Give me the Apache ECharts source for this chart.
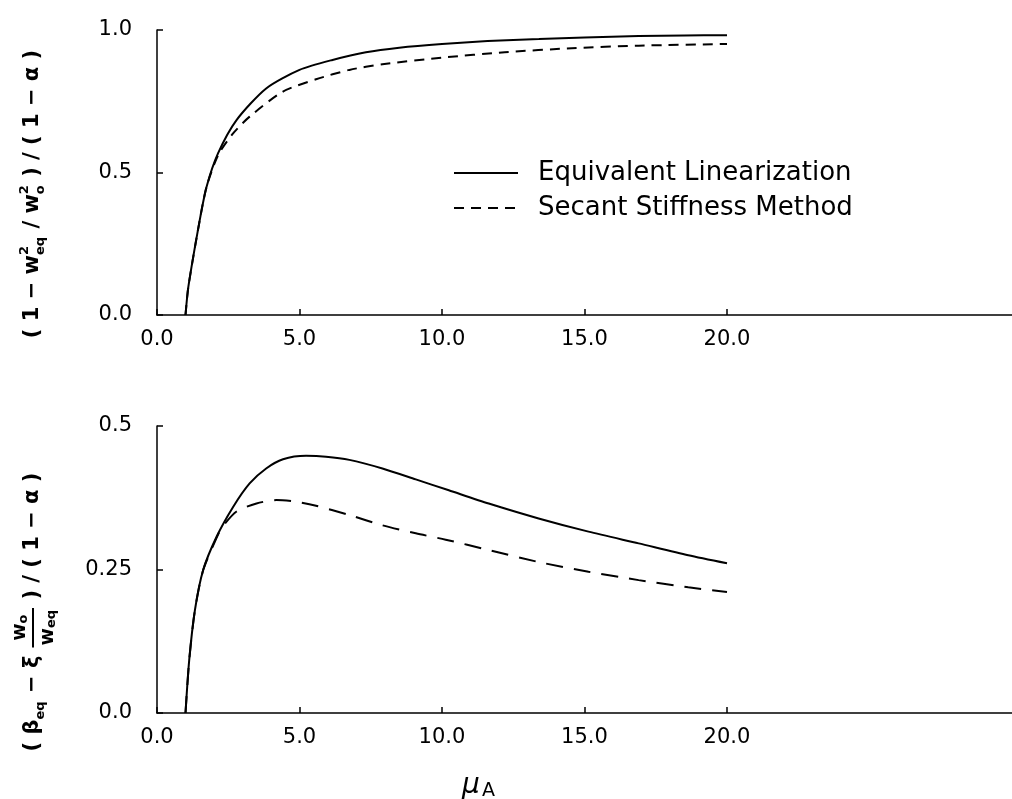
<!DOCTYPE html>
<html><head><meta charset="utf-8">
<script src="https://cdn.jsdelivr.net/npm/echarts@6/dist/echarts.min.js"></script>
<style>html,body{margin:0;padding:0;background:#fff}#c{width:1012px;height:799px}</style>
</head><body><div id="c"></div>
<script>
// ---- data ----
const xTickValues = [0, 5, 10, 15, 20];
const topYTicks = ['0.0', '0.5', '1.0'];
const botYTicks = ['0.0', '0.25', '0.5'];
const seriesNames = ['Equivalent Linearization', 'Secant Stiffness Method'];

const topElMu  = [1.0, 1.1, 1.5, 1.74, 2.14, 2.79, 3.83, 5.0, 6.16, 7.33, 8.5, 10.0, 11.6, 13.4, 15.0, 16.9, 18.5, 20.0];
const topElVal = [0.0, 0.099, 0.333, 0.45, 0.567, 0.684, 0.795, 0.86, 0.895, 0.922, 0.938, 0.951, 0.961, 0.968, 0.974, 0.979, 0.981, 0.982];
const topSsMu  = [1.0, 1.1, 1.5, 1.74, 2.14, 2.67, 3.25, 4.42, 5.58, 6.75, 7.91, 10.0, 12.2, 14.55, 16.9, 20.0];
const topSsVal = [0.0, 0.099, 0.333, 0.45, 0.56, 0.637, 0.696, 0.784, 0.827, 0.86, 0.88, 0.903, 0.922, 0.936, 0.945, 0.951];

const botElMu  = [1.0, 1.13, 1.33, 1.62, 2.09, 2.67, 3.25, 3.83, 4.42, 5.23, 5.93, 6.75, 7.91, 9.08, 10.24, 11.64, 13.39, 15.14, 16.9, 18.64, 20.0];
const botElVal = [0.0, 0.092, 0.179, 0.249, 0.307, 0.359, 0.400, 0.426, 0.442, 0.448, 0.4465, 0.441, 0.426, 0.407, 0.388, 0.365, 0.339, 0.316, 0.2955, 0.275, 0.261];
const botSsMu  = [1.0, 1.13, 1.33, 1.62, 2.09, 2.26, 2.79, 3.49, 4.19, 4.89, 5.58, 6.75, 7.91, 9.08, 10.13, 11.64, 13.39, 15.14, 16.9, 18.64, 20.0];
const botSsVal = [0.0, 0.092, 0.179, 0.249, 0.305, 0.322, 0.351, 0.365, 0.371, 0.368, 0.361, 0.345, 0.327, 0.313, 0.302, 0.284, 0.263, 0.246, 0.2315, 0.219, 0.211];

// ---- helpers ----
const FONT = 'DejaVu Sans';
const ctx = document.createElement('canvas').getContext('2d');
function tw(t, size, weight) { ctx.font = (weight || 'bold') + ' ' + size + 'px "' + FONT + '"'; return ctx.measureText(t).width; }
function txt(t, x, y, size, weight) {
  return { type: 'text', x: x, y: y, style: { text: t, fontSize: size, fontFamily: FONT, fontWeight: weight || 'bold', fill: '#000', textAlign: 'left', verticalAlign: 'middle' } };
}
// pieces: {t}, {sub}, {sup, sub}, {frac:[[base,sub],[base,sub]]}
function buildLabel(pieces, cx, cy, size) {
  const small = Math.round(size * 0.62);
  const items = [];
  let total = 0;
  pieces.forEach(p => {
    let w;
    if (p.t !== undefined) w = tw(p.t, size);
    else if (p.frac) {
      const wn = tw(p.frac[0][0], size) + tw(p.frac[0][1], small);
      const wd = tw(p.frac[1][0], size) + tw(p.frac[1][1], small);
      w = Math.max(wn, wd) + 4;
    } else w = Math.max(tw(p.sup || '', small), tw(p.sub || '', small)) + 1;
    items.push({ p: p, w: w });
    total += w;
  });
  let x = -total / 2;
  const children = [];
  items.forEach(({ p, w }) => {
    if (p.t !== undefined) children.push(txt(p.t, x, 0, size));
    else if (p.frac) {
      const fs = size * 0.9;
      const wn = tw(p.frac[0][0], fs) + tw(p.frac[0][1], small);
      const wd = tw(p.frac[1][0], fs) + tw(p.frac[1][1], small);
      const xn = x + (w - wn) / 2, xd = x + (w - wd) / 2;
      children.push(txt(p.frac[0][0], xn, -size * 0.62, fs));
      children.push(txt(p.frac[0][1], xn + tw(p.frac[0][0], fs), -size * 0.45, small));
      children.push(txt(p.frac[1][0], xd, size * 0.72, fs));
      children.push(txt(p.frac[1][1], xd + tw(p.frac[1][0], fs), size * 0.9, small));
      children.push({ type: 'line', shape: { x1: x + 1, y1: 0, x2: x + w - 1, y2: 0 }, style: { stroke: '#000', lineWidth: 2 } });
    } else {
      if (p.sup) children.push(txt(p.sup, x, -size * 0.42, small));
      if (p.sub) children.push(txt(p.sub, x, size * 0.35, small));
    }
    x += w;
  });
  return { type: 'group', x: cx, y: cy, rotation: Math.PI / 2, children: children };
}
function pairs(xs, ys) { return xs.map((v, i) => [v, ys[i]]); }

const axisLine = { show: true, lineStyle: { color: '#000', width: 1.5 } };
const labelStyle = { color: '#000', fontFamily: FONT, fontSize: 21 };
function xAxis(gi) {
  return {
    type: 'value', gridIndex: gi, min: 0, max: 30, interval: 5,
    axisLine: axisLine, splitLine: { show: false },
    axisTick: { show: true, inside: true, length: 6, lineStyle: { color: '#000', width: 1.5 }, customValues: xTickValues },
    axisLabel: Object.assign({ margin: 14, customValues: xTickValues, formatter: v => v <= 20 ? v.toFixed(1) : '' }, labelStyle)
  };
}
function yAxis(gi, max, interval, labels) {
  return {
    type: 'value', gridIndex: gi, min: 0, max: max, interval: interval,
    axisLine: axisLine, splitLine: { show: false },
    axisTick: { show: true, inside: true, length: 6, lineStyle: { color: '#000', width: 1.5 } },
    axisLabel: Object.assign({ margin: 25, padding: [0, 0, 12, 0], formatter: v => labels[Math.round(v / interval)] }, labelStyle)
  };
}
const solid = { color: '#000', width: 2, type: 'solid' };
function line(name, gi, data, dash) {
  return {
    name: name, type: 'line', xAxisIndex: gi, yAxisIndex: gi, data: data,
    showSymbol: false, symbol: 'none', smooth: 0.25, animation: false,
    lineStyle: dash ? { color: '#000', width: 2, type: dash } : solid,
    itemStyle: { color: '#000' }
  };
}

const chart = echarts.init(document.getElementById('c'));
chart.setOption({
  backgroundColor: '#fff',
  animation: false,
  grid: [
    { left: 157, top: 30, right: 0, height: 285 },
    { left: 157, top: 426, right: 0, height: 287 }
  ],
  xAxis: [xAxis(0), xAxis(1)],
  yAxis: [yAxis(0, 1, 0.5, topYTicks), yAxis(1, 0.5, 0.25, botYTicks)],
  legend: {
    left: 453, top: 160, orient: 'vertical', padding: 0, itemWidth: 64, itemHeight: 14, itemGap: 9,
    data: seriesNames,
    itemStyle: { opacity: 0 },
    textStyle: { color: '#000', fontFamily: FONT, fontSize: 26, padding: [0, 0, 0, 15] },
    selectedMode: false
  },
  series: [
    line(seriesNames[0], 0, pairs(topElMu, topElVal)),
    line(seriesNames[1], 0, pairs(topSsMu, topSsVal), [10, 7]),
    line(seriesNames[0], 1, pairs(botElMu, botElVal)),
    line(seriesNames[1], 1, pairs(botSsMu, botSsVal), [17, 11])
  ],
  graphic: [
    buildLabel([{ t: '( 1 − w' }, { sup: '2', sub: 'eq' }, { t: ' / w' }, { sup: '2', sub: 'o' }, { t: ' ) / ( 1 − α )' }], 33, 194, 21),
    buildLabel([{ t: '( β' }, { sub: 'eq' }, { t: ' − ξ ' }, { frac: [['w', 'o'], ['w', 'eq']] }, { t: ' ) / ( 1 − α )' }], 33, 612, 21),
    { type: 'text', x: 462, y: 786, style: { text: 'μ', fontSize: 28, fontStyle: 'italic', fontFamily: FONT, fill: '#000', textAlign: 'left', verticalAlign: 'middle' } },
    { type: 'text', x: 482, y: 791, style: { text: 'A', fontSize: 19, fontFamily: FONT, fill: '#000', textAlign: 'left', verticalAlign: 'middle' } }
  ]
});
</script>
</body></html>
